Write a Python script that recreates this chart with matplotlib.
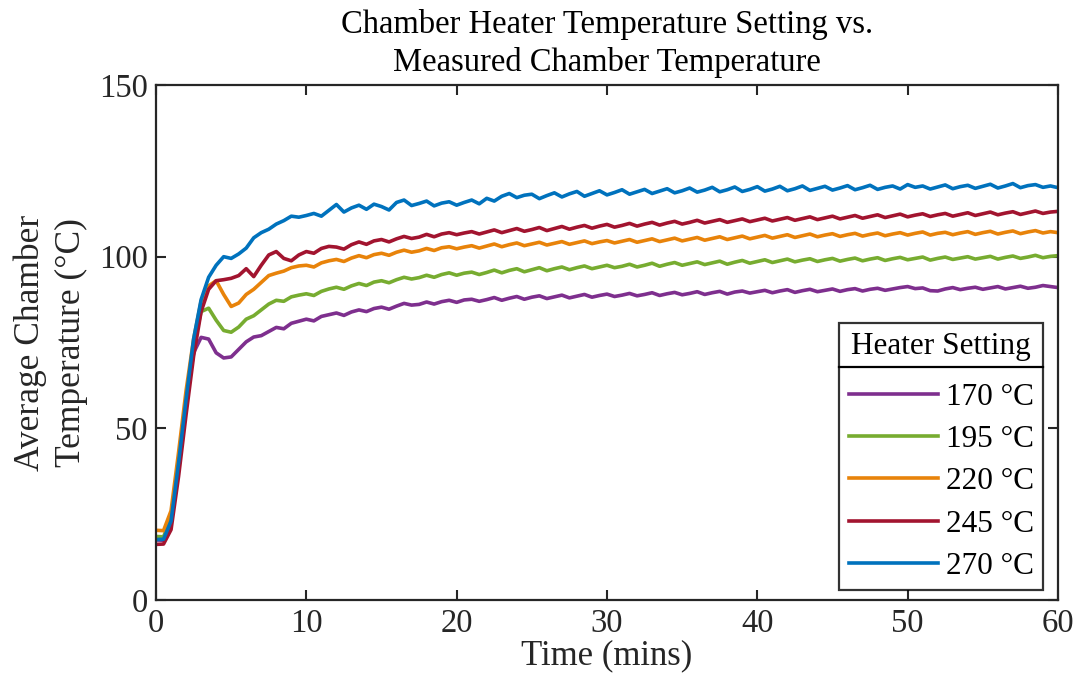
import numpy as np
import matplotlib
matplotlib.use('Agg')
import matplotlib.pyplot as plt
from matplotlib.lines import Line2D

plt.rcParams['font.family'] = ['Liberation Serif', 'DejaVu Serif']

# time axis, one reading every half minute
time_min = np.arange(0, 60.5, 0.5)

settings = ['170 °C', '195 °C', '220 °C', '245 °C', '270 °C']
colors = ['#7E2F8E', '#77AC30', '#E8830A', '#A2142F', '#0072BD']

temp_170 = [
    17.5, 17.4, 23.0, 40.0, 58.0, 72.0, 76.5, 76.0, 72.0, 70.5,
    70.8, 73.0, 75.2, 76.6, 77.0, 78.2, 79.4, 79.0, 80.6, 81.2,
    81.8, 81.3, 82.6, 83.1, 83.6, 82.9, 83.9, 84.5, 84.0, 84.9,
    85.3, 84.7, 85.6, 86.4, 85.9, 86.1, 86.8, 86.2, 86.9, 87.3,
    86.7, 87.4, 87.6, 87.0, 87.5, 88.1, 87.3, 87.9, 88.4, 87.6,
    88.2, 88.6, 87.8, 88.3, 88.8, 88.0, 88.5, 89.0, 88.2, 88.7,
    89.1, 88.4, 88.8, 89.3, 88.6, 89.0, 89.5, 88.7, 89.2, 89.6,
    88.9, 89.3, 89.8, 89.0, 89.5, 89.9, 89.1, 89.7, 90.0, 89.4,
    89.8, 90.2, 89.5, 90.0, 90.4, 89.6, 90.1, 90.5, 89.8, 90.2,
    90.6, 89.9, 90.4, 90.7, 90.0, 90.5, 90.8, 90.2, 90.6, 91.0,
    91.3, 90.7, 90.9, 90.1, 90.0, 90.6, 91.0, 90.4, 90.8, 91.1,
    90.5, 90.9, 91.3, 90.6, 91.0, 91.4, 90.8, 91.1, 91.6, 91.3,
    91.0]

temp_195 = [
    18.5, 18.4, 24.0, 41.0, 59.0, 74.0, 84.0, 85.0, 81.5, 78.5,
    78.0, 79.5, 81.8, 82.8, 84.5, 86.2, 87.3, 87.0, 88.3, 88.8,
    89.2, 88.7, 89.9, 90.6, 91.1, 90.5, 91.5, 92.2, 91.6, 92.6,
    93.0, 92.4, 93.3, 94.0, 93.5, 93.9, 94.6, 94.0, 94.8, 95.3,
    94.6, 95.2, 95.5, 94.8, 95.4, 96.1, 95.3, 96.0, 96.5, 95.6,
    96.2, 96.8, 95.9, 96.5, 97.0, 96.2, 96.8, 97.3, 96.5, 97.0,
    97.5, 96.8, 97.2, 97.8, 97.0, 97.5, 98.1, 97.2, 97.8, 98.3,
    97.5, 98.0, 98.5, 97.7, 98.2, 98.7, 97.8, 98.4, 98.9, 98.1,
    98.6, 99.1, 98.3, 98.8, 99.3, 98.5, 99.0, 99.4, 98.6, 99.1,
    99.5, 98.7, 99.2, 99.6, 98.8, 99.3, 99.7, 98.9, 99.4, 99.8,
    99.1, 99.5, 99.9, 99.0, 99.5, 99.9, 99.2, 99.6, 100.0, 99.3,
    99.7, 100.1, 99.3, 99.8, 100.2, 99.5, 99.9, 100.4, 99.7, 100.1,
    100.3]

temp_220 = [
    20.3, 20.2, 26.0, 43.0, 61.0, 76.0, 87.0, 91.5, 93.0, 89.0,
    85.5, 86.5, 89.0, 90.5, 92.5, 94.5, 95.2, 95.8, 96.8, 97.3,
    97.5, 97.0, 98.2, 98.8, 99.2, 98.6, 99.6, 100.3, 99.7, 100.6,
    101.0, 100.4, 101.3, 101.9, 101.3, 101.7, 102.4, 101.8, 102.6, 102.9,
    102.3, 102.8, 103.2, 102.5, 103.1, 103.7, 102.9, 103.5, 104.0, 103.2,
    103.7, 104.2, 103.4, 103.9, 104.4, 103.6, 104.1, 104.6, 103.8, 104.3,
    104.7, 104.0, 104.5, 105.0, 104.2, 104.7, 105.2, 104.4, 104.9, 105.4,
    104.6, 105.1, 105.6, 104.8, 105.3, 105.8, 105.0, 105.5, 106.0, 105.2,
    105.7, 106.2, 105.4, 105.9, 106.4, 105.6, 106.1, 106.6, 105.8, 106.3,
    106.7, 105.9, 106.4, 106.8, 106.0, 106.5, 106.9, 106.1, 106.6, 107.0,
    106.3, 106.8, 107.2, 106.3, 106.8, 107.1, 106.4, 106.9, 107.3, 106.5,
    107.0, 107.4, 106.6, 107.1, 107.5, 106.7, 107.2, 107.6, 106.9, 107.3,
    107.0]

temp_245 = [
    16.2, 16.3, 20.5, 36.0, 54.0, 71.0, 84.0, 90.5, 93.0, 93.3,
    93.7, 94.5, 96.5, 94.2, 97.5, 100.5, 101.5, 99.5, 98.8, 100.5,
    101.5, 101.0, 102.4, 103.0, 102.8, 102.2, 103.5, 104.3, 103.6, 104.6,
    105.0, 104.3, 105.2, 105.9, 105.3, 105.7, 106.5, 105.8, 106.6, 107.0,
    106.4, 106.9, 107.3, 106.6, 107.2, 107.8, 107.0, 107.6, 108.2, 107.4,
    107.9, 108.5, 107.6, 108.2, 108.8, 108.0, 108.6, 109.1, 108.3, 108.9,
    109.4, 108.6, 109.1, 109.7, 108.9, 109.5, 110.0, 109.2, 109.8, 110.3,
    109.5, 110.0, 110.6, 109.8, 110.3, 110.8, 110.0, 110.5, 111.0, 110.2,
    110.7, 111.2, 110.4, 110.9, 111.4, 110.6, 111.1, 111.6, 110.8, 111.3,
    111.8, 111.0, 111.5, 112.0, 111.2, 111.7, 112.2, 111.4, 111.9, 112.4,
    111.6, 112.1, 112.5, 111.7, 112.2, 112.6, 111.8, 112.3, 112.8, 112.0,
    112.5, 113.0, 112.2, 112.7, 113.1, 112.3, 112.8, 113.3, 112.6, 113.0,
    113.2]

temp_270 = [
    17.6, 17.7, 23.0, 40.0, 58.5, 76.0, 87.5, 94.0, 97.5, 100.0,
    99.5, 100.8, 102.5, 105.5, 107.0, 108.0, 109.5, 110.5, 111.8, 111.5,
    112.0, 112.6, 111.8, 113.5, 115.2, 113.0, 114.2, 115.0, 113.8, 115.3,
    114.6, 113.6, 115.8, 116.5, 114.9, 115.5, 116.2, 114.8, 115.6, 116.0,
    115.0, 115.8, 116.5, 115.4, 117.0, 116.2, 117.6, 118.4, 117.2, 117.9,
    118.2, 116.9, 117.8, 118.6, 117.4, 118.3, 119.0, 117.6, 118.4, 119.2,
    118.0, 118.7, 119.5, 118.2, 118.9, 119.6, 118.4, 119.1, 119.8, 118.6,
    119.2, 120.0, 118.8, 119.4, 120.2, 118.9, 119.5, 120.3, 119.0, 119.6,
    120.4, 119.1, 119.7, 120.5, 119.2, 119.8, 120.6, 119.3, 119.9, 120.5,
    119.4, 120.0, 120.7, 119.5, 120.1, 120.8, 119.6, 120.2, 120.6, 119.7,
    121.0, 120.2, 120.6, 119.7, 120.3, 120.9, 119.8, 120.4, 120.8, 119.9,
    120.5, 121.1, 120.0, 120.6, 121.3, 120.1, 120.7, 121.0, 120.2, 120.6,
    120.1]

series = [temp_170, temp_195, temp_220, temp_245, temp_270]

fig = plt.figure(figsize=(10.73, 6.93), dpi=100)
ax = fig.add_axes([0.1454, 0.1342, 0.8406, 0.7431])

for temps, label, c in zip(series, settings, colors):
    ax.plot(time_min, temps, color=c, lw=2.6, label=label)

ax.set_xlim(0, 60)
ax.set_ylim(0, 150)
ax.set_xticks(range(0, 61, 10))
ax.set_yticks([0, 50, 100, 150])
ax.tick_params(direction='in', length=7, width=1.5, labelsize=23.5,
               top=True, right=True, colors='#262626', pad=6)
for s in ax.spines.values():
    s.set_linewidth(1.6)
    s.set_color('#262626')

ax.set_xlabel('Time (mins)', fontsize=25, color='#262626', labelpad=0)
ax.set_ylabel('Average Chamber\nTemperature (°C)', fontsize=25.5,
              color='#262626', labelpad=8, linespacing=1.3)
ax.set_title('Chamber Heater Temperature Setting vs.\nMeasured Chamber Temperature',
             fontsize=23.5, color='black', pad=10, linespacing=1.3)

leg = ax.legend(title='Heater Setting', loc='lower right',
                bbox_to_anchor=(0.9834, 0.0194), borderaxespad=0,
                fontsize=22.5, title_fontsize=22.5, frameon=True,
                fancybox=False, edgecolor='black', handlelength=2.85,
                handletextpad=0.25, labelspacing=0.42, borderpad=0.3)
leg.get_frame().set_linewidth(1.6)
leg.get_title().set_color('black')
for h in leg.legend_handles:
    h.set_linewidth(2.6)
leg._legend_box.sep = 16

# separator line under the legend title, as in the original
fig.canvas.draw()
fb = leg.get_frame().get_window_extent()
tb = leg.get_title().get_window_extent()
inv = fig.transFigure.inverted()
y_sep = tb.y0 - 6
(x0, y0), (x1, _) = inv.transform([(fb.x0, y_sep), (fb.x1, y_sep)])
fig.add_artist(Line2D([x0, x1], [y0, y0], color='black', lw=1.6))

fig.savefig('out.png', dpi=100)
